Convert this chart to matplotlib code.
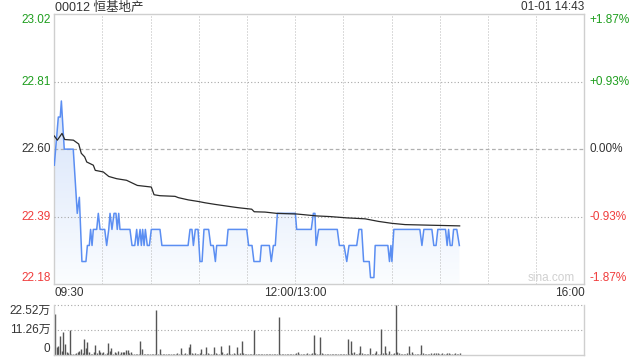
import numpy as np
import matplotlib
matplotlib.use('Agg')
import matplotlib.pyplot as plt
from matplotlib.colors import LinearSegmentedColormap
from matplotlib.patches import PathPatch
import matplotlib.transforms as mtransforms

plt.rcParams['font.family'] = ['Liberation Sans', 'Noto Sans CJK SC', 'DejaVu Sans']

# ---- data ----
title = '00012 恒基地产'
stamp = '01-01 14:43'
prev_close = 22.60

# minutes after 09:30 (lunch break removed), price
price_min = [0, 2.5, 3.7, 4.4, 6.2, 11.8, 14.3, 15.6, 17.2, 19.7, 20.6, 21.8, 22.6, 23.5, 24.3,
             26.4, 27.4, 28.5, 31.4, 32.6, 33.9, 34.7, 35.9, 37.2, 38.4, 39.2, 40.1, 40.9,
             47.1, 48.4, 50.1, 51.3, 52.1, 53.4, 54.2, 55.0, 55.9, 56.7, 57.9, 59.2, 60.4,
             65.8, 67.0, 83.3, 84.5, 85.7, 86.6, 87.8, 89.5, 90.7, 92.0, 93.2, 96.1, 97.4,
             99.0, 100.3, 101.1, 107.3, 108.2, 119.8, 121.0, 123.1, 124.3, 128.1, 128.9,
             133.9, 135.1, 136.4, 137.6, 138.9, 150.1, 150.9, 160.0, 161.3, 162.3, 163.0,
             164.6, 176.2, 177.5, 180.4, 182.1, 183.5, 188.3, 189.7, 191.4, 192.6, 196.1,
             196.9, 199.0, 199.8, 207.7, 208.7, 209.6, 210.2, 211.4, 227.6, 228.9, 230.1,
             235.1, 236.3, 237.7, 238.8, 243.6, 244.6, 245.5, 246.5, 247.7, 248.6, 250.6, 252.2]
price = [22.55, 22.70, 22.70, 22.75, 22.60, 22.60, 22.40, 22.45, 22.25, 22.25, 22.30, 22.30, 22.35, 22.30, 22.35,
         22.35, 22.40, 22.35, 22.35, 22.30, 22.35, 22.40, 22.35, 22.40, 22.40, 22.35, 22.40, 22.35,
         22.35, 22.30, 22.30, 22.35, 22.30, 22.35, 22.30, 22.35, 22.30, 22.35, 22.30, 22.30, 22.35,
         22.35, 22.30, 22.30, 22.35, 22.35, 22.30, 22.35, 22.35, 22.25, 22.25, 22.35, 22.35, 22.30,
         22.30, 22.25, 22.30, 22.30, 22.35, 22.35, 22.30, 22.30, 22.25, 22.25, 22.30,
         22.30, 22.25, 22.30, 22.30, 22.40, 22.40, 22.35, 22.35, 22.40, 22.40, 22.30,
         22.35, 22.35, 22.30, 22.30, 22.25, 22.30, 22.30, 22.35, 22.35, 22.25, 22.25,
         22.20, 22.20, 22.30, 22.30, 22.25, 22.30, 22.25, 22.35, 22.35, 22.30, 22.35,
         22.35, 22.30, 22.30, 22.35, 22.35, 22.30, 22.35, 22.30, 22.30, 22.35, 22.35, 22.30]

avg_min = [0, 1.9, 4.8, 6.5, 11.9, 15.2, 16.8, 18.9, 20.2, 24.3, 25.5, 30.5, 33.9, 38.8, 45,
           51.7, 60.4, 62.1, 65.8, 75.2, 77.2, 83.4, 89.7, 93.8, 100, 112.5, 115.6, 122.9,
           124.5, 131.2, 138.5, 151, 163.4, 171.7, 182, 193.5, 201.8, 210.1, 218.4, 235, 252.4]
avg_price = [22.641, 22.628, 22.649, 22.630, 22.628, 22.616, 22.587, 22.576, 22.560, 22.550,
             22.534, 22.529, 22.515, 22.508, 22.503, 22.487, 22.482, 22.458, 22.455, 22.453,
             22.449, 22.442, 22.437, 22.433, 22.428, 22.419, 22.417, 22.413, 22.405, 22.404,
             22.400, 22.398, 22.392, 22.390, 22.386, 22.383, 22.375, 22.369, 22.365, 22.363, 22.361]

# volume per minute, unit: 万
volume = [18.5, 3.5, 4.0, 8.4, 1.5, 10.4, 4.6, 1.2, 0.6, 11.3,
          0.2, 0.1, 0.3, 0.8, 1.2, 1.5, 2.5, 0.6, 7.0, 2.8,
          5.7, 1.0, 0.4, 0.4, 1.0, 4.3, 0.5, 2.0, 1.0, 0.7,
          1.0, 0.3, 0.5, 5.2, 1.6, 3.1, 0.4, 1.0, 0.7, 1.6,
          0.4, 1.0, 1.3, 1.0, 2.0, 1.9, 0.6, 1.0, 0.4, 0.4,
          0.3, 0.2, 0.3, 6.1, 2.5, 0.4, 0.3, 0.4, 0.2, 0.3,
          0.2, 0.1, 0.2, 20.4, 0.3, 2.5, 0.4, 0.3, 0.2, 0.3,
          0.2, 0.4, 0.3, 0.2, 0.4, 0.3, 0.5, 0.4, 3.1, 0.4,
          0.3, 0.6, 0.4, 3.4, 4.6, 0.8, 0.4, 0.5, 0.3, 0.4,
          0.6, 2.5, 0.3, 0.4, 3.4, 0.6, 0.4, 0.3, 0.4, 3.4,
          0.5, 0.3, 0.4, 3.7, 1.0, 0.4, 0.3, 0.5, 4.3, 0.4,
          0.3, 0.6, 0.3, 3.4, 0.4, 0.5, 6.1, 0.8, 0.4, 0.3,
          0.4, 0.2, 0.3, 0.2, 11.3, 0.3, 0.2, 0.3, 0.2, 0.4,
          0.3, 0.2, 0.3, 0.4, 0.3, 0.2, 0.3, 0.4, 0.3, 17.1,
          0.4, 0.3, 0.4, 0.3, 0.2, 0.4, 0.3, 0.2, 0.4, 0.3,
          0.5, 1.2, 0.4, 0.3, 0.2, 0.4, 0.3, 0.5, 0.3, 0.4,
          0.6, 8.9, 0.8, 0.4, 0.3, 8.0, 0.5, 0.3, 0.4, 0.3,
          0.2, 0.4, 0.3, 0.2, 0.3, 0.2, 0.3, 0.4, 0.2, 0.3,
          0.4, 0.2, 7.1, 0.3, 6.1, 0.8, 1.0, 0.4, 0.3, 0.5,
          4.0, 0.6, 0.3, 0.4, 0.3, 0.4, 3.1, 0.4, 0.3, 0.5,
          1.6, 0.4, 0.3, 11.6, 0.6, 4.0, 0.5, 0.3, 1.6, 0.4,
          0.3, 0.6, 22.5, 1.2, 0.5, 0.4, 0.3, 0.4, 0.3, 0.5,
          4.0, 0.4, 1.2, 0.3, 0.4, 0.3, 0.4, 0.3, 4.3, 0.5,
          0.4, 0.3, 0.4, 0.3, 0.5, 0.4, 0.6, 0.8, 0.5, 0.4,
          0.3, 0.6, 0.4, 0.3, 0.5, 0.6, 0.3, 0.2, 0.4, 0.5,
          0.3, 0.4, 0.6]

price_ticks = [23.02, 22.81, 22.60, 22.39, 22.18]
pct_ticks = ['+1.87%', '+0.93%', '0.00%', '-0.93%', '-1.87%']
vol_ticks = [22.52, 11.26, 0]
vol_tick_labels = ['22.52万', '11.26万', '0']
time_labels = ['09:30', '12:00/13:00', '16:00']
time_pos = [0, 150, 330]

GREEN = '#1e9e1e'
RED = '#f03c3c'
GREY = '#333333'
FRAME = '#cfcfcf'
BLUE = '#5b8ef2'
DOT = dict(color='#b8b8b8', lw=0.72, ls=(0, (1, 2)))
HDOT = dict(color='#a8a8a8', lw=0.8, ls=(0, (1, 2)))

W, H = 640, 360
fig = plt.figure(figsize=(6.4, 3.6), dpi=100)
ax = fig.add_axes([54.3 / W, 1 - 284 / H, 530 / W, (284 - 14.3) / H])
axv = fig.add_axes([54.3 / W, 1 - 354.5 / H, 530 / W, (354.5 - 305) / H])

# ---- price panel ----
ax.plot(price_min, price, color=BLUE, lw=1.1, zorder=4)
ax.plot(avg_min, avg_price, color='#2a2a2a', lw=0.9, zorder=5)

fill = ax.fill_between(price_min, price, price_ticks[-1], color='none', lw=0)
patch = PathPatch(fill.get_paths()[0], transform=ax.transData, facecolor='none', edgecolor='none')
ax.add_patch(patch)
cmap = LinearSegmentedColormap.from_list('fade', ['#fbfdff', '#d6e3fa'])
grad = np.linspace(0, 1, 256).reshape(-1, 1)
im = ax.imshow(grad, extent=[0, 330, price_ticks[-1], 22.76], origin='lower',
               aspect='auto', cmap=cmap, zorder=2)
im.set_clip_path(patch)

ax.set_xlim(0, 330)
ax.set_ylim(price_ticks[-1], price_ticks[0])
ax.set_xticks([])
ax.set_yticks([])
for s in ax.spines.values():
    s.set_color(FRAME)
    s.set_linewidth(1)

for t in range(30, 330, 30):
    ax.axvline(t, zorder=3, **DOT)
for p in [22.81, 22.39]:
    ax.axhline(p, zorder=3, **HDOT)
ax.axhline(prev_close, color='#b0b0b0', lw=0.9, ls=(0, (3, 2)), zorder=3)

tr = mtransforms.blended_transform_factory(ax.transAxes, ax.transData)
colors = [GREEN, GREEN, GREY, RED, RED]
for i, (p, lab, c) in enumerate(zip(price_ticks, pct_ticks, colors)):
    va = 'top' if i == 0 else ('bottom' if i == len(price_ticks) - 1 else 'center')
    ax.text(-0.007, p, '%.2f' % p, transform=tr, ha='right', va=va, color=c, fontsize=8.5)
    ax.text(1.01, p, lab, transform=tr, ha='left', va=va, color=c, fontsize=8.5)

for lab, t in zip(time_labels, time_pos):
    ha = 'left' if t == 0 else ('right' if t == 330 else 'center')
    ax.text(t, -0.032, lab, transform=mtransforms.blended_transform_factory(ax.transData, ax.transAxes),
            ha=ha, va='center', color=GREY, fontsize=8.5)

ax.text(0.938, 0.022, 'sina.com', transform=ax.transAxes, ha='center', va='center',
        color='#d0d0d0', fontsize=8.5)

fig.text(55 / W, 1 - 7.5 / H, title, ha='left', va='center', color=GREY, fontsize=9)
fig.text(584 / W, 1 - 7.5 / H, stamp, ha='right', va='center', color=GREY, fontsize=8.5)

# ---- volume panel ----
axv.vlines(np.arange(len(volume)) + 0.6, 0, volume, color='#555555', lw=1)
axv.set_xlim(0, 330)
axv.set_ylim(0, vol_ticks[0])
axv.set_xticks([])
axv.set_yticks([])
for k, s in axv.spines.items():
    s.set_color(FRAME)
    s.set_linewidth(1)
axv.spines['top'].set_visible(False)
for v in vol_ticks[:2]:
    axv.axhline(v, zorder=0, clip_on=False, **HDOT)

trv = mtransforms.blended_transform_factory(axv.transAxes, axv.transData)
for i, (v, lab) in enumerate(zip(vol_ticks, vol_tick_labels)):
    va = 'top' if i == 0 else ('bottom' if i == len(vol_ticks) - 1 else 'center')
    axv.text(-0.007, v, lab, transform=trv, ha='right', va=va, color=GREY, fontsize=8.5)

fig.savefig('out.png', dpi=100)
